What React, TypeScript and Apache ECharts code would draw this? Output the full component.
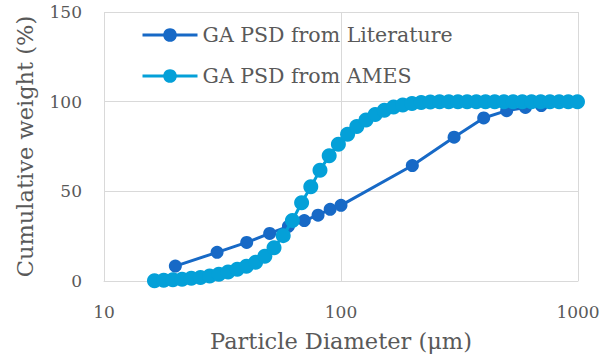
import React, { useEffect, useRef } from "react";
import * as echarts from "echarts";

const litX = [20, 30, 40, 50, 60, 70, 80, 90, 100, 200, 300, 400, 500, 600, 700];
const litY = [8.3, 16, 21.5, 26.5, 30.5, 33.7, 36.7, 40, 42.2, 64.4, 80.2, 90.9, 95, 96.8, 97.8];

const amesX = [
  16.33, 17.86, 19.53, 21.35, 23.35, 25.53, 27.92, 30.52, 33.38, 36.5,
  39.9, 43.63, 47.71, 52.17, 57.04, 62.37, 68.2, 74.57, 81.54, 89.16,
  97.5, 106.6, 116.6, 127.5, 139.4, 152.4, 166.7, 182.2, 199.3, 217.9,
  238.2, 260.5, 284.9, 311.5, 340.6, 372.4, 407.2, 445.3, 486.9, 532.4,
  582.1, 636.5, 696.0, 761.1, 832.2, 910.0, 995.0,
];
const amesY = [
  0.2, 0.4, 0.7, 1.0, 1.5, 2.0, 2.8, 3.7, 5.0, 6.5,
  8.2, 10.5, 13.8, 18.5, 25.3, 33.7, 43.6, 52.5, 61.8, 69.8,
  76.3, 81.8, 86.1, 89.8, 92.8, 95.2, 97.0, 98.2, 99.0, 99.5,
  99.8, 100, 100, 100, 100, 100, 100, 100, 100, 100,
  100, 100, 100, 100, 100, 100, 100,
];

const seriesNames = ["GA PSD from Literature", "GA PSD from AMES"];
const xTitle = "Particle Diameter (\u03bcm)";
const yTitle = "Cumulative weight (%)";

const FONT = "DejaVu Serif";
const TXT = "#595959";

export default function App() {
  const ref = useRef<HTMLDivElement>(null);
  useEffect(() => {
    if (!ref.current) return;
    const chart = echarts.init(ref.current, undefined, { renderer: "svg" });
    chart.setOption({
      animation: false,
      textStyle: { fontFamily: FONT },
      grid: { left: 104, right: 23, top: 12, bottom: 73, containLabel: false, outerBoundsMode: "none" },
      legend: {
        orient: "vertical",
        left: 136,
        top: 18,
        itemWidth: 55,
        itemHeight: 17,
        itemGap: 17,
        itemTextGap: 4,
        lineStyle: { width: 3 },
        textStyle: { fontFamily: FONT, fontSize: 20.5, color: TXT, lineHeight: 24 },
        data: seriesNames,
      },
      xAxis: {
        type: "log",
        logBase: 10,
        min: 10,
        max: 1000,
        name: xTitle,
        nameLocation: "middle",
        nameGap: 48,
        nameTextStyle: { fontFamily: FONT, fontSize: 22.5, color: TXT },
        axisLine: { show: true, lineStyle: { color: "#d9d9d9", width: 1 } },
        axisTick: { show: false },
        minorTick: { show: false },
        axisLabel: {
          color: TXT,
          fontSize: 17,
          margin: 22,
          fontFamily: FONT,
          formatter: (v: number) => String(Math.round(v)),
        },
        splitLine: { show: true, lineStyle: { color: "#d9d9d9", width: 1 } },
      },
      yAxis: {
        type: "value",
        min: 0,
        max: 150,
        interval: 50,
        name: yTitle,
        nameLocation: "middle",
        nameGap: 68,
        nameTextStyle: { fontFamily: FONT, fontSize: 22.5, color: TXT },
        axisLine: { show: false },
        axisTick: { show: false },
        axisLabel: { color: TXT, fontSize: 17, margin: 22, fontFamily: FONT },
        splitLine: { show: true, lineStyle: { color: "#d9d9d9", width: 1 } },
      },
      series: [
        {
          name: seriesNames[0],
          type: "line",
          data: litX.map((x, i) => [x, litY[i]]),
          symbol: "circle",
          symbolSize: 13,
          lineStyle: { color: "#1769c6", width: 3 },
          itemStyle: { color: "#1769c6" },
          z: 2,
        },
        {
          name: seriesNames[1],
          type: "line",
          data: amesX.map((x, i) => [x, amesY[i]]),
          symbol: "circle",
          symbolSize: 15,
          lineStyle: { color: "#04a0d8", width: 3 },
          itemStyle: { color: "#04a0d8" },
          z: 3,
        },
      ],
    });
    return () => chart.dispose();
  }, []);
  return <div ref={ref} style={{ width: 601, height: 354, position: "absolute", left: 0, top: 0 }} />;
}
